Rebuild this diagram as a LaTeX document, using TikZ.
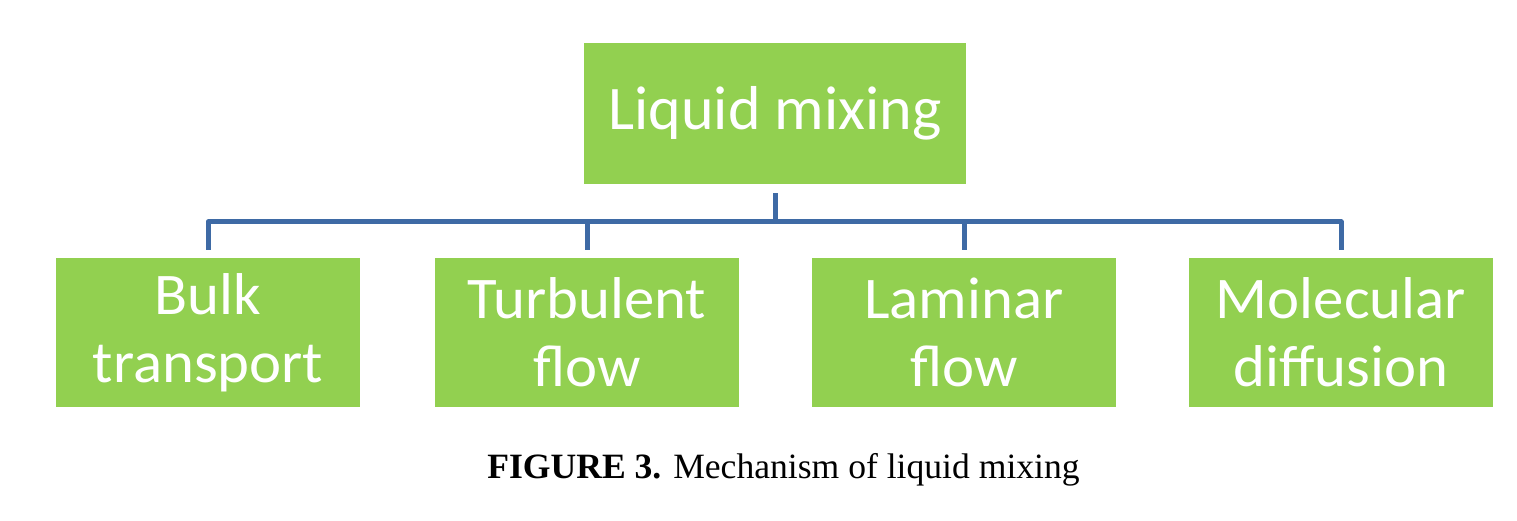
\documentclass[tikz,border=0pt]{standalone}
\usepackage{fontspec}
\setmainfont{Liberation Serif}
\newfontfamily\boxfont{Carlito}
\newfontfamily\subfont[FakeStretch=1.03]{Carlito}
\definecolor{boxgreen}{RGB}{146,208,80}
\definecolor{busblue}{RGB}{62,106,165}
\begin{document}
\begin{tikzpicture}[x=1pt,y=-1pt,
  topbox/.style={fill=boxgreen, inner sep=0pt, minimum width=382pt, minimum height=141pt,
     text=white, font=\boxfont\fontsize{62}{75}\selectfont},
  subbox/.style={fill=boxgreen, inner sep=0pt, minimum width=304pt, minimum height=149pt,
     text=white, align=center, font=\subfont\fontsize{59}{68}\selectfont},
  bus/.style={draw=busblue, line width=5pt, line join=round},
  caption/.style={font=\fontsize{35.6}{40}\selectfont, anchor=base, inner sep=0pt}]
\useasboundingbox (0,0) rectangle (1517,521);
\node[topbox] (top) at (775,113.5) {Liquid mixing};
\node[subbox] (b1) at (208,332.5) {Bulk\\transport};
\node[subbox] (b2) at (587,332.5) {Turbulent\\flow};
\node[subbox] (b3) at (964,332.5) {Laminar\\flow};
\node[subbox] (b4) at (1341,332.5) {Molecular\\diffusion};
\coordinate (busy) at (775,222);
\draw[bus, shorten <=8pt, shorten >=8pt] (b1.north) -- (b1.north |- busy) -- (b4.north |- busy) -- (b4.north);
\draw[bus, shorten <=9pt] (top.south) -- (top.south |- busy);
\draw[bus, shorten <=8pt] (b2.north) -- (b2.north |- busy);
\draw[bus, shorten <=8pt] (b3.north) -- (b3.north |- busy);
\node[caption] (cap) at (783.5,478) {\textbf{FIGURE 3.} Mechanism of liquid mixing};
\end{tikzpicture}
\end{document}
